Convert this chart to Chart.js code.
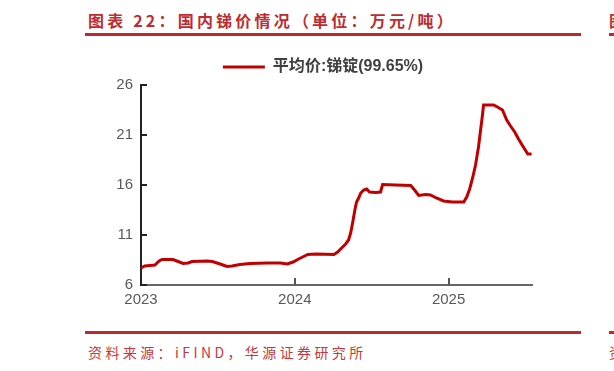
<!DOCTYPE html>
<html>
<head>
<meta charset="utf-8">
<script src="https://cdn.jsdelivr.net/npm/chart.js@4"></script>
<style>
  html, body { margin: 0; padding: 0; background: #fff; overflow: hidden; }
  body { width: 614px; height: 371px; position: relative; font-family: "Liberation Sans", "Noto Sans CJK SC", sans-serif; }
  .title { position: absolute; left: 88px; top: 8px; font-family: "Noto Sans CJK SC", sans-serif; font-weight: bold; font-size: 16px; letter-spacing: 3.2px; color: #be2b31; white-space: nowrap; }
  .rule { position: absolute; height: 3px; background: #c0282e; }
  .source { position: absolute; left: 88px; top: 342px; font-family: "Noto Sans CJK SC", sans-serif; font-size: 14px; letter-spacing: 3.4px; color: #c4393e; white-space: nowrap; }
  #wrap { position: absolute; left: 0; top: 0; width: 614px; height: 371px; }
</style>
</head>
<body>
<div class="title">图表 22：国内锑价情况（单位：万元/吨）</div>
<div class="rule" style="left:85px; top:33px; width:496px;"></div>
<div class="title" style="left:609px;">图表</div>
<div class="rule" style="left:609px; top:33px; width:10px;"></div>
<div class="rule" style="left:85px; top:331px; width:496px;"></div>
<div class="rule" style="left:609px; top:331px; width:10px;"></div>
<div class="source">资料来源：iFIND，华源证券研究所</div>
<div class="source" style="left:609px;">资料</div>
<div id="wrap"><canvas id="chart"></canvas></div>
<script>
// 平均价:锑锭(99.65%)，万元/吨
const dates = [
  '2023-01-01', '2023-01-10', '2023-01-22', '2023-02-03', '2023-02-13', '2023-02-20',
  '2023-03-18', '2023-03-30', '2023-04-11', '2023-04-23', '2023-05-02', '2023-06-07',
  '2023-06-19', '2023-07-08', '2023-07-24', '2023-08-05', '2023-08-24', '2023-09-17',
  '2023-10-28', '2023-11-28', '2023-12-14', '2023-12-28',
  '2024-01-10', '2024-01-22', '2024-02-01', '2024-02-20', '2024-04-03', '2024-04-12',
  '2024-04-19', '2024-05-01', '2024-05-08', '2024-05-13', '2024-05-18', '2024-05-23',
  '2024-05-27', '2024-06-01', '2024-06-06', '2024-06-13', '2024-06-20', '2024-06-27',
  '2024-07-12', '2024-07-23', '2024-07-28', '2024-08-28', '2024-10-03', '2024-10-12',
  '2024-10-22', '2024-11-07', '2024-11-19', '2024-12-03', '2024-12-20',
  '2025-01-10', '2025-02-06', '2025-02-13', '2025-02-20', '2025-02-27', '2025-03-06',
  '2025-03-13', '2025-03-18', '2025-03-23', '2025-03-25', '2025-04-18', '2025-04-27',
  '2025-05-09', '2025-05-19', '2025-05-28', '2025-06-07', '2025-06-16', '2025-06-26',
  '2025-07-08', '2025-07-17'
];
const prices = [
  7.7, 7.9, 7.95, 8.0, 8.4, 8.55,
  8.55, 8.35, 8.15, 8.2, 8.35, 8.4,
  8.35, 8.1, 7.85, 7.9, 8.05, 8.15,
  8.2, 8.2, 8.1, 8.3,
  8.6, 8.85, 9.05, 9.1, 9.05, 9.3,
  9.6, 10.1, 10.5, 11.2, 12.3, 13.5,
  14.3, 14.7, 15.2, 15.5, 15.6, 15.3,
  15.25, 15.3, 16.05, 16.0, 15.95, 15.5,
  14.95, 15.05, 15.0, 14.7, 14.4,
  14.3, 14.3, 14.8, 15.6, 16.7, 18.0,
  19.8, 21.5, 23.2, 24.0, 24.0, 23.8,
  23.5, 22.5, 21.9, 21.3, 20.6, 19.9,
  19.1, 19.1
];
const seriesName = '平均价:锑锭(99.65%)';
const yearTicks = [2023, 2024, 2025];
const yTicks = [6, 11, 16, 21, 26];
const axisEnd = '2025-07-18';

function toYear(s) {
  const [y, m, d] = s.split('-').map(Number);
  const start = Date.UTC(y, 0, 1), end = Date.UTC(y + 1, 0, 1);
  return y + (Date.UTC(y, m - 1, d) - start) / (end - start);
}

const points = dates.map((d, i) => ({ x: toYear(d), y: prices[i] }));

// small tick marks pointing into the plot area
const innerTicks = {
  id: 'innerTicks',
  afterDraw(chart) {
    const ctx = chart.ctx;
    const xs = chart.scales.x, ys = chart.scales.y;
    ctx.save();
    ctx.lineWidth = 2;
    ctx.strokeStyle = '#555';
    yearTicks.forEach(v => {
      const px = Math.round(xs.getPixelForValue(v));
      if (px <= xs.left + 1) return;
      ctx.beginPath();
      ctx.moveTo(px, ys.bottom);
      ctx.lineTo(px, ys.bottom - 7);
      ctx.stroke();
    });
    ctx.strokeStyle = '#222';
    yTicks.forEach(v => {
      const py = Math.round(ys.getPixelForValue(v));
      ctx.beginPath();
      ctx.moveTo(xs.left, py);
      ctx.lineTo(xs.left + 6, py);
      ctx.stroke();
    });
    ctx.restore();
  }
};

new Chart(document.getElementById('chart'), {
  type: 'line',
  data: {
    datasets: [{
      label: seriesName,
      data: points,
      borderColor: '#c00000',
      backgroundColor: '#c00000',
      borderWidth: 3,
      pointRadius: 0,
      tension: 0,
      fill: false
    }]
  },
  options: {
    responsive: true,
    maintainAspectRatio: false,
    animation: false,
    layout: { padding: { left: 114, right: 82, top: 49, bottom: 56 } },
    plugins: {
      tooltip: { enabled: false },
      legend: {
        position: 'top',
        labels: {
          boxWidth: 42,
          boxHeight: 3,
          padding: 10,
          color: '#404040',
          font: { family: '"Liberation Sans", "Noto Sans CJK SC", sans-serif', size: 16, weight: 'bold' },
          generateLabels: chart => Chart.defaults.plugins.legend.labels.generateLabels(chart)
            .map(l => Object.assign(l, { lineWidth: 0 }))
        }
      }
    },
    scales: {
      x: {
        type: 'linear',
        min: yearTicks[0],
        max: toYear(axisEnd),
        afterBuildTicks: s => { s.ticks = yearTicks.map(v => ({ value: v })); },
        afterFit: s => { s.height = 30; },
        grid: { display: false, drawTicks: false },
        border: { display: true, color: '#666', width: 2 },
        ticks: {
          padding: 6,
          color: '#595959',
          font: { family: '"Liberation Sans", sans-serif', size: 15 },
          callback: v => String(v),
          maxRotation: 0
        }
      },
      y: {
        min: 6,
        max: 26,
        afterBuildTicks: s => { s.ticks = yTicks.map(v => ({ value: v })); },
        afterFit: s => { s.width = 27; },
        grid: { display: false, drawTicks: false },
        border: { display: true, color: '#222', width: 2 },
        ticks: {
          padding: 8,
          color: '#595959',
          font: { family: '"Liberation Sans", sans-serif', size: 15 }
        }
      }
    }
  },
  plugins: [innerTicks]
});
</script>
</body>
</html>
